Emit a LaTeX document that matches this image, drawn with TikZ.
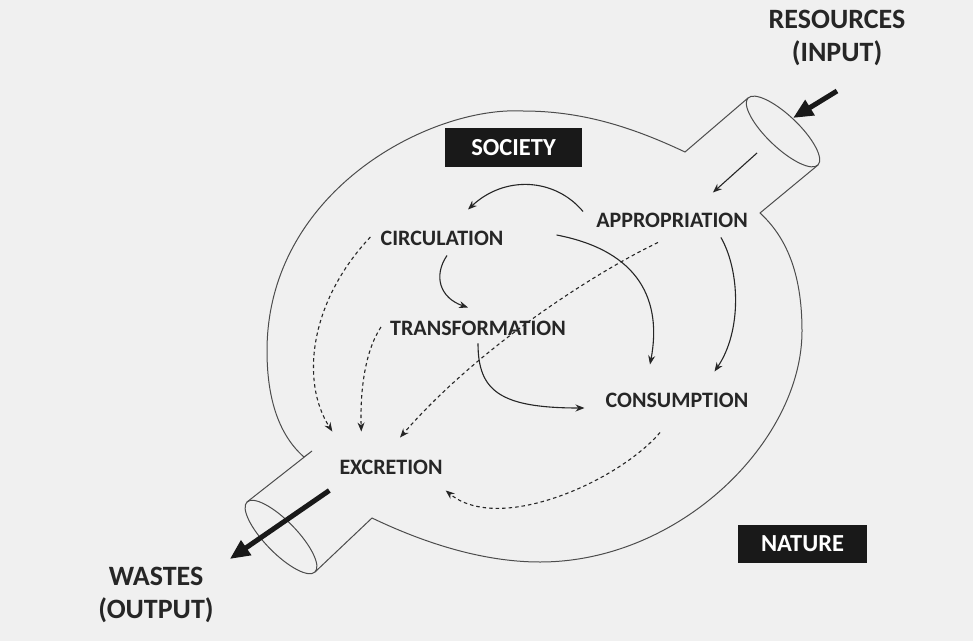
\documentclass[tikz,border=0pt]{standalone}
\usepackage{fontspec}
\setmainfont{Carlito}
\usetikzlibrary{arrows.meta}

\begin{document}
\begin{tikzpicture}[x=1pt,y=1pt,
	lbl/.style={font=\bfseries\fontsize{22}{26}\selectfont,text=black!85,inner sep=3pt},
	big/.style={font=\bfseries\fontsize{28}{33}\selectfont,text=black!85,align=center,inner sep=3pt},
	tag/.style={fill=black!90,text=white,font=\bfseries\fontsize{24.5}{28}\selectfont,minimum height=39pt,inner sep=0pt},
	tube/.style={black!70,line width=1pt},
	flow/.style={-{Stealth[length=9pt,width=7pt]},black!85,line width=1.1pt},
	leak/.style={flow,dash pattern=on 3.5pt off 3pt},
	bold flow/.style={-{Triangle[length=20pt,width=17pt]},black!90,line width=5pt}]
	\fill[black!6] (0,0) rectangle (973,641);

	\draw[tube] (748,543) -- (685,489) .. controls (630,515) and (580,530) .. (523,530)
		.. controls (430,535) and (267,450) .. (267,290) .. controls (267,240) and (280,205) .. (304,184)
		-- (312,190) -- (247,139);
	\draw[tube] (315,69) -- (372,123) .. controls (420,100) and (480,79) .. (540,79)
		.. controls (680,79) and (802,200) .. (802,310) .. controls (802,370) and (785,405) .. (760,428)
		-- (818,476);
	\draw[tube, rotate around={-43.7:(783,509.5)}] (783,509.5) ellipse [x radius=48.4, y radius=16];
	\draw[tube, rotate around={-45.8:(281,104)}] (281,104) ellipse [x radius=48.8, y radius=16];
	\coordinate (inlet) at (757,488);
	\coordinate (inpipe) at (783,510);

	\node[big] (res) at (837,603) {RESOURCES\\(INPUT)};
	\node[big] (wastes) at (156,46) {WASTES\\(OUTPUT)};
	\node[tag,minimum width=137pt] (soc) at (513.5,493.5) {SOCIETY};
	\node[tag,minimum width=129pt,minimum height=38pt] (nat) at (802.5,97) {NATURE};
	\node[lbl] (appr) at (672,421) {APPROPRIATION};
	\node[lbl] (circ) at (442,403) {CIRCULATION};
	\node[lbl] (trans) at (478,313) {TRANSFORMATION};
	\node[lbl] (cons) at (677,241) {CONSUMPTION};
	\node[lbl] (excr) at (391,174) {EXCRETION};

	\draw[flow] (inlet) -- ([shift={(-38,17)}]appr.north east);
	\draw[flow] ([shift={(-10,-2)}]appr.north west) .. controls (555,463) and (505,466) .. ([shift={(26,18)}]circ.north);
	\draw[flow] ([shift={(5,-7)}]circ.south) .. controls (433,365) and (440,343) .. ([shift={(-10,10)}]trans.north);
	\draw[flow] ([shift={(50,3)}]circ.east) .. controls (640,390) and (662,340) .. ([shift={(-27,25)}]cons.north);
	\draw[flow] ([shift={(-30,-7)}]appr.south east) .. controls (740,370) and (742,310) .. ([shift={(-37,18)}]cons.north east);
	\draw[flow] ([shift={(0,-5)}]trans.south) .. controls (478,250) and (500,233) .. ([shift={(-18,-8)}]cons.west);

	\draw[leak] ([shift={(-7,1)}]circ.west) .. controls (310,340) and (300,260) .. ([shift={(-4,25)}]excr.north west);
	\draw[leak] ([shift={(-6,1)}]trans.west) .. controls (365,290) and (360,250) .. ([shift={(25,25)}]excr.north west);
	\draw[leak] ([shift={(-14,-12)}]appr.south) .. controls (600,371) and (480,296) .. ([shift={(9,19)}]excr.north);
	\draw[leak] ([shift={(-17,-22)}]cons.south) .. controls (620,161) and (500,106) .. ([shift={(0,-13)}]excr.south east);

	\draw[bold flow] ([shift={(0,-22)}]res.south) -- ([shift={(10,13)}]inpipe);
	\draw[bold flow] ([shift={(-7,-13)}]excr.south west) -- ([shift={(13,5)}]wastes.north east);
\end{tikzpicture}
\end{document}
